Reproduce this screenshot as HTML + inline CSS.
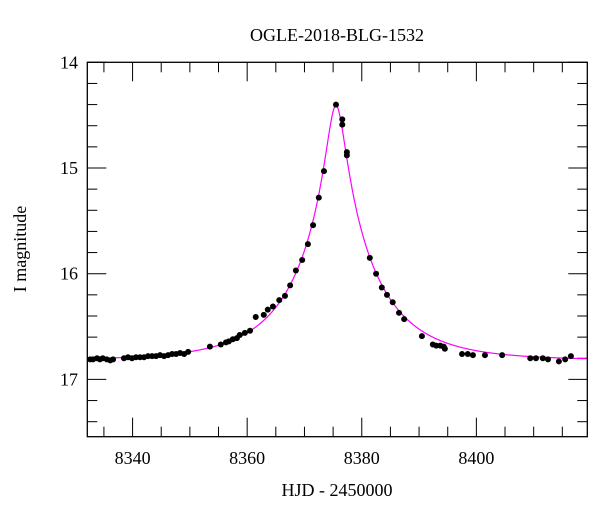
<!DOCTYPE html>
<html><head><meta charset="utf-8"><style>
body{margin:0;background:#fff}
svg{display:block;font-family:"Liberation Serif",serif}
</style></head><body>
<svg id="chart" width="600" height="512" viewBox="0 0 600 512">
<text x="337" y="41" font-size="18" text-anchor="middle">OGLE-2018-BLG-1532</text>
<text transform="translate(26,249) rotate(-90)" font-size="18" text-anchor="middle">I magnitude</text>
<text x="337" y="496" font-size="18" text-anchor="middle">HJD - 2450000</text>
<g id="ticks"></g><g id="labels"></g>
<path id="model" fill="none" stroke="#ff00ff" stroke-width="1.2"/>
<g id="pts"></g>
<rect x="87.3" y="62.3" width="500" height="374.4" fill="none" stroke="#000" stroke-width="1.3"/>
</svg>
<script>
const days=[8332.6,8333.1,8333.8,8334.3,8334.8,8335.5,8336.1,8336.6,8338.5,8339.2,8339.9,8340.6,8341.3,8342.0,8342.7,8343.4,8344.1,8344.8,8345.5,8346.2,8346.9,8347.6,8348.3,8349.0,8349.7,8353.5,8355.4,8356.3,8356.8,8357.5,8358.2,8358.7,8359.6,8360.5,8361.5,8362.9,8363.6,8364.5,8365.6,8366.6,8367.5,8368.5,8369.6,8370.6,8371.5,8372.5,8373.4,8375.5,8376.6,8376.6,8377.4,8377.4,8381.4,8382.5,8383.5,8384.4,8385.4,8386.5,8387.4,8390.5,8392.4,8393.0,8393.7,8394.3,8394.5,8397.5,8398.5,8399.4,8401.5,8404.5,8409.4,8410.4,8411.6,8412.5,8414.4,8415.5,8416.5];
const mags=[16.81,16.81,16.80,16.81,16.80,16.81,16.82,16.81,16.80,16.79,16.80,16.79,16.79,16.79,16.78,16.78,16.78,16.77,16.78,16.77,16.76,16.76,16.75,16.76,16.74,16.69,16.67,16.65,16.64,16.62,16.61,16.58,16.56,16.54,16.41,16.39,16.34,16.31,16.25,16.21,16.11,15.97,15.87,15.72,15.54,15.28,15.03,14.40,14.54,14.59,14.85,14.88,15.85,16.00,16.13,16.20,16.27,16.37,16.43,16.59,16.67,16.68,16.68,16.69,16.71,16.76,16.76,16.77,16.77,16.77,16.80,16.80,16.80,16.81,16.83,16.81,16.78];
const xTicks=[8340,8360,8380,8400];
const yTicks=[14,15,16,17];
const model={t0:8375.5,u0:0.109,tE:14,base:16.82};
const X0=87.3,X1=587.3,Y0=62.3,Y1=436.7,D0=8332.1,D1=8419.36,M0=14,M1=17.542;
const sx=d=>X0+(d-D0)/(D1-D0)*(X1-X0);
const sy=m=>Y0+(m-M0)/(M1-M0)*(Y1-Y0);
const NS='http://www.w3.org/2000/svg';
const tk=document.getElementById('ticks'),lb=document.getElementById('labels'),pg=document.getElementById('pts');
function line(x1,y1,x2,y2,name){const l=document.createElementNS(NS,'line');l.setAttribute('x1',x1);l.setAttribute('y1',y1);l.setAttribute('x2',x2);l.setAttribute('y2',y2);l.setAttribute('stroke','#000');l.setAttribute('stroke-width','1');


tk.appendChild(l);}
for(let d=8335;d<D1;d+=5){const x=sx(d),L=(d%20===0)?19:10;line(x,Y1,x,Y1-L,'x-tick');line(x,Y0,x,Y0+L,'x-tick-top');}
for(let i=0;i<=17;i++){const m=14+i*0.2;if(m>M1)break;const y=sy(m),L=(Math.abs(m-Math.round(m))<1e-6)?19:10;line(X0,y,X0+L,y,'y-tick');line(X1,y,X1-L,y,'y-tick-right');}
xTicks.forEach(v=>{const t=document.createElementNS(NS,'text');t.setAttribute('x',sx(v));t.setAttribute('y',464);t.setAttribute('font-size','18');t.setAttribute('text-anchor','middle');t.textContent=v;


lb.appendChild(t);});
yTicks.forEach(v=>{const t=document.createElementNS(NS,'text');t.setAttribute('x',78);t.setAttribute('y',sy(v)+6);t.setAttribute('font-size','18');t.setAttribute('text-anchor','end');t.textContent=v;


lb.appendChild(t);});
let dstr='';
for(let d=D0;d<=D1;d+=0.1){const u=Math.sqrt(model.u0**2+((d-model.t0)/model.tE)**2);const A=(u*u+2)/(u*Math.sqrt(u*u+4));const m=model.base-2.5*Math.log10(A);dstr+=(dstr?'L':'M')+sx(d).toFixed(2)+','+sy(m).toFixed(2);}
document.getElementById('model').setAttribute('d',dstr);
days.forEach((d,i)=>{const c=document.createElementNS(NS,'circle');c.setAttribute('cx',sx(d));c.setAttribute('cy',sy(mags[i]));c.setAttribute('r','3');c.setAttribute('fill','#000');


pg.appendChild(c);});
</script>
</body></html>
